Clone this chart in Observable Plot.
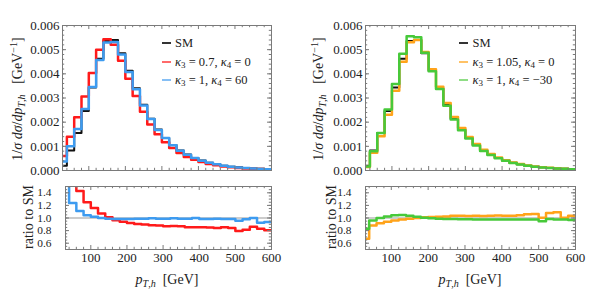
<!DOCTYPE html>
<html><head><meta charset="utf-8">
<script src="https://cdn.jsdelivr.net/npm/d3@7"></script>
<script src="https://cdn.jsdelivr.net/npm/@observablehq/plot@0.6"></script>
<style>
body{margin:0;background:#fff;}
#root{position:relative;width:598px;height:295px;overflow:hidden;font-family:"Liberation Serif","Times New Roman",serif;color:#222;}
#root svg{position:absolute;overflow:visible;font-family:"Liberation Serif","Times New Roman",serif !important;}
#root svg text{font-family:"Liberation Serif","Times New Roman",serif !important;}
.rot{position:absolute;transform:translate(-50%,-50%) rotate(-90deg);white-space:nowrap;font-size:14px;line-height:1;}
.xl{position:absolute;transform:translate(-50%,-50%);white-space:nowrap;font-size:14px;line-height:1;}
.lg{position:absolute;font-size:12.5px;white-space:nowrap;line-height:1;transform:translateY(-50%);}
.sw{position:absolute;width:9px;height:2px;}
sub{font-size:72%;vertical-align:-0.3em;line-height:0;}
sup{font-size:72%;vertical-align:0.45em;line-height:0;}
</style></head><body><div id="root"></div>
<script>
// ---- data ----
const binEdges = [20,40,60,80,100,120,140,160,180,200,220,240,260,280,300,320,340,360,380,400,420,440,460,480,500,520,540,560,580,600];
const sm      = [0.0002,0.00083,0.00155,0.00246,0.00343,0.00462,0.00536,0.0054,0.00485,0.00413,0.0034,0.00272,0.00214,0.0017,0.00135,0.00106,0.00083,0.00066,0.00052,0.00041,0.00032,0.00026,0.0002,0.00016,0.00013,0.0001,0.00008,0.00007,0.00005];
const k3_07   = [0.0006,0.0014,0.0022,0.00306,0.00403,0.005,0.00543,0.0052,0.00454,0.0038,0.00308,0.00243,0.0019,0.0015,0.00117,0.00093,0.00072,0.00056,0.00044,0.00035,0.00027,0.00022,0.00017,0.000135,0.000105,0.000082,0.000068,0.000058,0.00004];
const k4_60   = [0.00037,0.001,0.00172,0.00255,0.00346,0.00457,0.0053,0.00532,0.0048,0.00408,0.00336,0.00269,0.00213,0.00168,0.00134,0.00105,0.00082,0.00065,0.00052,0.0004,0.00032,0.00026,0.0002,0.00016,0.00012,0.0001,0.00008,0.00006,0.00005];
const k3_105  = [0.00014,0.00073,0.00142,0.00231,0.0033,0.0045,0.00531,0.0054,0.0049,0.00419,0.00347,0.00279,0.00221,0.00176,0.00139,0.0011,0.00086,0.00068,0.00054,0.00042,0.00033,0.00027,0.00021,0.00017,0.00013,0.00011,0.00009,0.00007,0.00005];
const k4_m30  = [0.00017,0.0008,0.00155,0.00252,0.00358,0.00483,0.00556,0.00551,0.00487,0.00411,0.00337,0.00268,0.00211,0.00167,0.00132,0.00103,0.00081,0.00064,0.00051,0.0004,0.00031,0.00025,0.0002,0.00016,0.00012,0.0001,0.00008,0.00007,0.00005];
const ratioK3_07  = [3.0,1.69,1.43,1.25,1.16,1.07,1.01,0.965,0.94,0.92,0.905,0.895,0.885,0.88,0.87,0.875,0.87,0.855,0.855,0.855,0.85,0.84,0.855,0.84,0.795,0.815,0.86,0.83,0.805];
const ratioK4_60  = [1.85,1.24,1.11,1.045,1.02,1.0,0.99,0.985,0.985,0.985,0.99,0.99,0.995,0.99,0.99,0.995,0.99,0.99,1.0,0.985,0.985,0.99,0.985,0.985,0.955,0.98,1.0,0.925,0.935];
const ratioK3_105 = [0.67,0.88,0.915,0.94,0.96,0.975,0.99,1.0,1.01,1.015,1.02,1.025,1.035,1.035,1.03,1.035,1.03,1.035,1.04,1.035,1.035,1.045,1.06,1.065,1.005,1.08,1.09,1.005,1.035];
const ratioK4_m30 = [0.83,0.96,1.0,1.025,1.045,1.047,1.037,1.02,1.005,0.995,0.99,0.985,0.985,0.98,0.98,0.975,0.975,0.975,0.975,0.975,0.975,0.975,0.975,0.975,0.95,0.985,0.975,0.975,0.97];
const xTickLabels = [100,200,300,400,500,600];
const yTickLabels = [0,0.001,0.002,0.003,0.004,0.005,0.006];
const ratioTickLabels = [0.6,0.8,1.0,1.2,1.4];
const legendLeft  = ["SM", "<i>κ</i><sub>3</sub> = 0.7, <i>κ</i><sub>4</sub> = 0", "<i>κ</i><sub>3</sub> = 1, <i>κ</i><sub>4</sub> = 60"];
const legendRight = ["SM", "<i>κ</i><sub>3</sub> = 1.05, <i>κ</i><sub>4</sub> = 0", "<i>κ</i><sub>3</sub> = 1, <i>κ</i><sub>4</sub> = −30"];

// ---- styles ----
const C = {black:"#111", red:"#ff1a1a", blue:"#3d9bf0", orange:"#ffa31a", green:"#47c93a"};
const LG = {black:"#333", red:"#ff6a6a", blue:"#86bff5", orange:"#ffc266", green:"#8fdd85"};
const frameCol = "#7a7a7a";
const font = '"Liberation Serif","Times New Roman",serif';

const steps = vals => binEdges.map((e,i)=>({x:e, y: vals[Math.min(i, vals.length-1)]}));
const xMinor = d3.range(40, 600, 20).filter(d => d % 100 !== 0);
const yMinor = d3.range(0, 0.0061, 0.0002);
const rMinor = d3.range(0.5, 1.51, 0.05);

function frameTicks(xMaj, xMin, yMaj, yMin, fw, fh) {
  const s = {stroke: frameCol, strokeWidth: 1};
  return [
    Plot.tickX(xMaj, {x: d=>d, insetTop: fh-4, ...s}),
    Plot.tickX(xMaj, {x: d=>d, insetBottom: fh-4, ...s}),
    Plot.tickX(xMin, {x: d=>d, insetTop: fh-2.2, ...s}),
    Plot.tickX(xMin, {x: d=>d, insetBottom: fh-2.2, ...s}),
    Plot.tickY(yMaj, {y: d=>d, insetRight: fw-4, ...s}),
    Plot.tickY(yMaj, {y: d=>d, insetLeft: fw-4, ...s}),
    Plot.tickY(yMin, {y: d=>d, insetRight: fw-2.2, ...s}),
    Plot.tickY(yMin, {y: d=>d, insetLeft: fw-2.2, ...s}),
  ];
}

function mainPlot(w, ml, mr, series) {
  const h = 175, mt = 25, mb = 5;
  return Plot.plot({
    width: w, height: h, marginLeft: ml, marginRight: mr, marginTop: mt, marginBottom: mb,
    style: {fontFamily: font, fontSize: "13px", color: "#222", background: "transparent"},
    x: {domain: [28, 600], axis: null, label: null},
    y: {domain: [0, 0.006], label: null},
    marks: [
      ...series.map(s => Plot.line(steps(s.v), {x:"x", y:"y", curve:"step-after", stroke: s.c, strokeWidth: s.w, clip: true})),
      ...frameTicks(xTickLabels, xMinor, yTickLabels, yMinor, w-ml-mr, h-mt-mb),
      Plot.axisY({ticks: yTickLabels, tickSize: 0, tickPadding: 3, tickFormat: d3.format(".3f"), fontSize: 13, label: null}),
      Plot.frame({stroke: frameCol, strokeWidth: 1})
    ]
  });
}

function ratioPlot(w, ml, mr, series) {
  const h = 120, mt = 11, mb = 46;
  return Plot.plot({
    width: w, height: h, marginLeft: ml, marginRight: mr, marginTop: mt, marginBottom: mb,
    style: {fontFamily: font, fontSize: "13px", color: "#222", background: "transparent"},
    x: {domain: [30, 600], label: null},
    y: {domain: [0.5, 1.5], label: null},
    marks: [
      Plot.ruleY([1], {stroke: "#999", strokeWidth: 1}),
      ...series.map(s => Plot.line(steps(s.v), {x:"x", y:"y", curve:"step-after", stroke: s.c, strokeWidth: s.w, clip: true})),
      ...frameTicks(xTickLabels, xMinor, ratioTickLabels, rMinor, w-ml-mr, h-mt-mb),
      Plot.axisY({ticks: ratioTickLabels, tickSize: 0, tickPadding: 14, tickFormat: d3.format(".1f"), fontSize: 11.4, label: null}),
      Plot.axisX({ticks: xTickLabels, tickSize: 0, tickPadding: 3, fontSize: 13, tickFormat: d=>String(d), label: null}),
      Plot.frame({stroke: frameCol, strokeWidth: 1})
    ]
  });
}

const root = document.getElementById("root");
function place(el, left, top) { el.style.left = left+"px"; el.style.top = top+"px"; root.appendChild(el); }

place(mainPlot(300, 62, 29, [{v: sm, c: C.black, w: 2}, {v: k3_07, c: C.red, w: 2.5}, {v: k4_60, c: C.blue, w: 2.5}]), 0, 0);
place(mainPlot(298, 65, 23, [{v: sm, c: C.black, w: 2}, {v: k3_105, c: C.orange, w: 2.5}, {v: k4_m30, c: C.green, w: 2.5}]), 300, 0);
place(ratioPlot(300, 65, 29, [{v: ratioK3_07, c: C.red, w: 2.5}, {v: ratioK4_60, c: C.blue, w: 2.5}]), 0, 175);
place(ratioPlot(298, 65, 23, [{v: ratioK3_105, c: C.orange, w: 2.5}, {v: ratioK4_m30, c: C.green, w: 2.5}]), 300, 175);

function html(cls, inner, left, top) {
  const d = document.createElement("div"); d.className = cls; d.innerHTML = inner;
  d.style.left = left+"px"; d.style.top = top+"px"; root.appendChild(d); return d;
}
const yLab = '1/<i>σ</i> <i>dσ</i>/<i>dp</i><sub><i>T</i>,<i>h</i></sub>&nbsp;&nbsp; [GeV<sup>−1</sup>]';
html("rot", yLab, 17.5, 99);
html("rot", yLab, 319, 99);
html("rot", "ratio to SM", 29, 217);
html("rot", "ratio to SM", 332, 217);
const xLab = '<i>p</i><sub><i>T</i>,<i>h</i></sub>&nbsp;&nbsp;[GeV]';
html("xl", xLab, 167, 280);
html("xl", xLab, 470, 280);

function legend(items, cols, x0, tx) {
  const ys = [43, 61.5, 80];
  items.forEach((t, i) => {
    const sw = document.createElement("div"); sw.className = "sw";
    sw.style.left = x0+"px"; sw.style.top = (ys[i]-1)+"px"; sw.style.background = cols[i];
    root.appendChild(sw);
    html("lg", t, tx, ys[i]);
  });
}
legend(legendLeft, [LG.black, LG.red, LG.blue], 162, 175);
legend(legendRight, [LG.black, LG.orange, LG.green], 459, 472.5);
</script></body></html>
